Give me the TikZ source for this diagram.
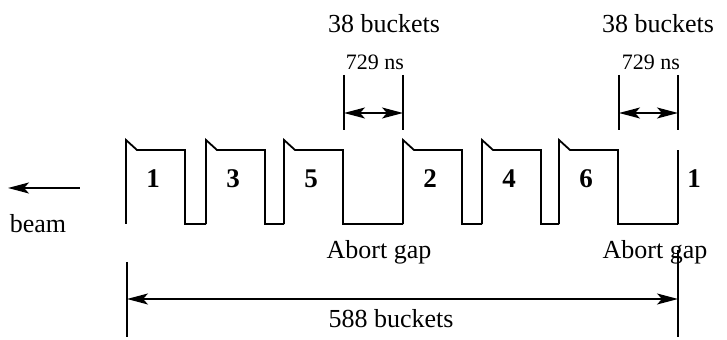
\documentclass[tikz,border=0pt]{standalone}
\usepackage{fontspec}
\setmainfont{Liberation Serif}
\usetikzlibrary{arrows.meta}

\tikzset{
  train/.style={line width=0.9pt},
  dimline/.style={line width=0.7pt},
  dimarrow/.style={line width=0.8pt,
    {Stealth[length=10.5pt,width=5.5pt,inset=2.5pt]}-{Stealth[length=10.5pt,width=5.5pt,inset=2.5pt]}},
  beamarrow/.style={line width=1pt, {Stealth[length=10.5pt,width=5.5pt,inset=2.5pt]}-},
  lbl/.style={font=\fontsize{13}{15}\selectfont, inner sep=0pt, anchor=base},
  smalllbl/.style={font=\fontsize{11}{13}\selectfont, inner sep=0pt, anchor=base},
  bunchlbl/.style={font=\fontsize{13.5}{15}\selectfont\bfseries, inner sep=0pt}
}

\begin{document}
\begin{tikzpicture}[x=0.5pt,y=-0.5pt]
    \useasboundingbox (0,0) rectangle (727,340);

    % bunch trains, each one running on to the start of the next
    \foreach \x/\nx/\lab in {126/206/1, 206/284/3, 284/403/5, 403/482/2, 482/559/4, 559/678/6}{
        \draw[train] (\x,224) -- (\x,140) -- ++(11,10) -- (\x+59,150) -- (\x+59,224) -- (\nx,224);
        \node[bunchlbl] (bunch\lab) at (\x+27,179) {\lab};
    }
    \draw[train] (678,224) -- (678,150);
    \node[bunchlbl] (bunchnext) at (694,179) {1};

    % beam direction
    \coordinate (beamtail) at (80,188);
    \coordinate (beamhead) at (8,188);
    \draw[beamarrow] (beamhead) -- (beamtail);
    \node[lbl] (beam) at (38,233) {beam};

    % first abort gap
    \coordinate (gapAtop) at (344,75);
    \coordinate (gapAmid) at (344,113);
    \coordinate (gapAbot) at (344,130);
    \coordinate (gapBtop) at (403,75);
    \coordinate (gapBmid) at (403,113);
    \coordinate (gapBbot) at (403,130);
    \draw[dimline] (gapAtop) -- (gapAbot);
    \draw[dimline] (gapBtop) -- (gapBbot);
    \draw[dimarrow] (gapAmid) -- (gapBmid);
    \node[lbl] (buckA) at (384,33) {38 buckets};
    \node[smalllbl] (timeA) at (375,70) {729 ns};
    \node[lbl] (abortA) at (379,259) {Abort gap};

    % second abort gap
    \coordinate (gapCtop) at (619,75);
    \coordinate (gapCmid) at (619,113);
    \coordinate (gapCbot) at (619,130);
    \coordinate (gapDtop) at (678,75);
    \coordinate (gapDmid) at (678,113);
    \coordinate (gapDbot) at (678,130);
    \draw[dimline] (gapCtop) -- (gapCbot);
    \draw[dimline] (gapDtop) -- (gapDbot);
    \draw[dimarrow] (gapCmid) -- (gapDmid);
    \node[lbl] (buckB) at (658,33) {38 buckets};
    \node[smalllbl] (timeB) at (651,70) {729 ns};
    \node[lbl] (abortB) at (655,259) {Abort gap};

    % full turn
    \coordinate (turnLtop) at (127,262);
    \coordinate (turnLmid) at (127,299);
    \coordinate (turnLbot) at (127,337);
    \coordinate (turnRtop) at (678,250);
    \coordinate (turnRmid) at (678,299);
    \coordinate (turnRbot) at (678,337);
    \draw[dimline] (turnLtop) -- (turnLbot);
    \draw[dimline] (turnRtop) -- (turnRbot);
    \draw[dimarrow] (turnLmid) -- (turnRmid);
    \node[lbl] (turn) at (391,328) {588 buckets};
\end{tikzpicture}
\end{document}
